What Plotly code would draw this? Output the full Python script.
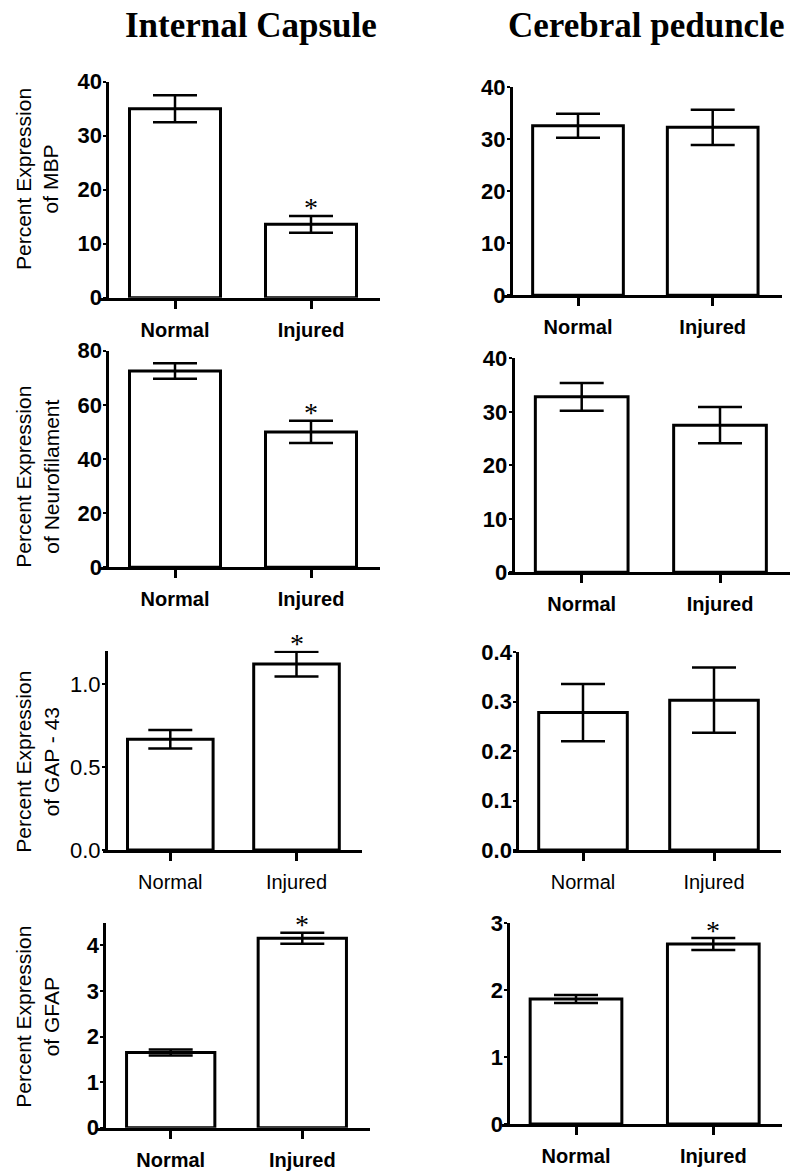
import plotly.graph_objects as go

# ---------------- data ----------------
groups = ["Normal", "Injured"]
column_titles = ["Internal Capsule", "Cerebral peduncle"]
row_titles = [
    "Percent Expression<br>of MBP",
    "Percent Expression<br>of Neurofilament",
    "Percent Expression<br>of GAP - 43",
    "Percent Expression<br>of GFAP",
]

ic_mbp_mean = [35.0, 13.6]
ic_mbp_sem = [2.5, 1.55]
cp_mbp_mean = [32.6, 32.3]
cp_mbp_sem = [2.3, 3.4]

ic_nf_mean = [72.5, 50.0]
ic_nf_sem = [2.9, 4.1]
cp_nf_mean = [32.8, 27.5]
cp_nf_sem = [2.6, 3.4]

ic_gap_mean = [0.667, 1.12]
ic_gap_sem = [0.056, 0.075]
cp_gap_mean = [0.278, 0.303]
cp_gap_sem = [0.058, 0.066]

ic_gfap_mean = [1.65, 4.16]
ic_gfap_sem = [0.065, 0.12]
cp_gfap_mean = [1.87, 2.69]
cp_gfap_sem = [0.06, 0.09]

# significance marker ("*") per group
ic_mbp_star = [False, True]
cp_mbp_star = [False, False]
ic_nf_star = [False, True]
cp_nf_star = [False, False]
ic_gap_star = [False, True]
cp_gap_star = [False, False]
ic_gfap_star = [False, True]
cp_gfap_star = [False, True]

# ---------------- layout geometry (pixels in the page) ----------------
W, H = 800, 1176


def px(xp):
    return xp / W


def py(yp):
    return 1 - yp / H


# (x-axis left, x-axis right, y-axis x, tick0 x, tick1 x, y of zero, y of top, bar width)
panels = [
    dict(mean=ic_mbp_mean, sem=ic_mbp_sem, star=ic_mbp_star, ymax=40, dtick=10, fmt="",
         geo=(100, 380, 107.3, 175, 311, 297.7, 81.7, 91), bold=True),
    dict(mean=cp_mbp_mean, sem=cp_mbp_sem, star=cp_mbp_star, ymax=40, dtick=10, fmt="",
         geo=(503, 781.7, 511, 578, 712.7, 295.3, 87.3, 90.7), bold=True),
    dict(mean=ic_nf_mean, sem=ic_nf_sem, star=ic_nf_star, ymax=80, dtick=20, fmt="",
         geo=(100, 380, 107.3, 175, 311, 567.3, 350.7, 91), bold=True),
    dict(mean=cp_nf_mean, sem=cp_nf_sem, star=cp_nf_star, ymax=40, dtick=10, fmt="",
         geo=(508, 790, 512.7, 581.7, 720, 572.3, 358.3, 92.7), bold=True),
    dict(mean=ic_gap_mean, sem=ic_gap_sem, star=ic_gap_star, ymax=1.2, dtick=0.5, fmt=".1f",
         geo=(103, 361.7, 106, 170.3, 296.5, 850, 650.8, 85.6), bold=False),
    dict(mean=cp_gap_mean, sem=cp_gap_sem, star=cp_gap_star, ymax=0.4, dtick=0.1, fmt=".1f",
         geo=(513.3, 781, 517.3, 583, 714, 850, 652.3, 88.6), bold=False),
    dict(mean=ic_gfap_mean, sem=ic_gfap_sem, star=ic_gfap_star, ymax=4.5, dtick=1, fmt="",
         geo=(96.7, 370, 104.3, 170.7, 302.3, 1127.7, 922.7, 88.3), bold=True),
    dict(mean=cp_gfap_mean, sem=cp_gfap_sem, star=cp_gfap_star, ymax=3, dtick=1, fmt="",
         geo=(501.7, 781.7, 508.3, 576, 713.3, 1124, 923.3, 91.7), bold=True),
]

FONT = "'Liberation Sans', Arial, 'DejaVu Sans', sans-serif"
SERIF = "'Liberation Serif', 'Times New Roman', serif"

fig = go.Figure()
layout = {}
annotations = []

for i, p in enumerate(panels, start=1):
    xl, xr, yax, t0, t1, y0, yt, bw = p["geo"]
    s = t1 - t0
    xa = "x" if i == 1 else f"x{i}"
    ya = "y" if i == 1 else f"y{i}"
    weight = "bold" if p["bold"] else "normal"

    fig.add_trace(go.Bar(
        x=groups, y=p["mean"], width=bw / s,
        marker=dict(color="white", line=dict(color="black", width=3)),
        error_y=dict(type="data", array=p["sem"], visible=True,
                     color="black", thickness=2.5, width=22),
        xaxis=xa, yaxis=ya, showlegend=False, hoverinfo="skip",
    ))

    layout[f"xaxis{i if i > 1 else ''}"] = dict(
        domain=[px(xl), px(xr)], range=[(xl - t0) / s, (xr - t0) / s],
        anchor=ya, type="category", automargin=False,
        showline=True, linecolor="black", linewidth=3,
        ticks="outside", ticklen=8, tickwidth=3, tickcolor="black",
        ticklabelstandoff=4,
        tickfont=dict(family=FONT, size=20, color="black", weight=weight),
        showgrid=False, zeroline=False, fixedrange=True,
    )
    layout[f"yaxis{i if i > 1 else ''}"] = dict(
        domain=[py(y0), py(yt)], range=[0, p["ymax"]],
        anchor="free", position=px(yax), automargin=False,
        tick0=0, dtick=p["dtick"], tickformat=p["fmt"],
        showline=True, linecolor="black", linewidth=3,
        ticks="outside", ticklen=3, tickwidth=2, tickcolor="black",
        ticklabelstandoff=-3,
        tickfont=dict(family=FONT, size=22, color="black",
                      weight="bold" if (p["bold"] or i == 6) else "normal"),
        showgrid=False, zeroline=False, fixedrange=True,
    )

    for g, m, e, st in zip(groups, p["mean"], p["sem"], p["star"]):
        if st:
            annotations.append(dict(
                x=g, y=m + e, xref=xa, yref=ya, text="*", showarrow=False,
                yanchor="middle", yshift=8,
                font=dict(family=SERIF, size=28, color="black"),
            ))

# column titles
for cx, t in zip([250.5, 645.5], column_titles):
    annotations.append(dict(
        x=px(cx), y=py(25), xref="paper", yref="paper", text=t,
        showarrow=False, xanchor="center", yanchor="middle",
        font=dict(family=SERIF, size=35, color="black", weight="bold"),
    ))

# row (y-axis) titles
for cy, t in zip([179, 476.7, 761.7, 1016.7], row_titles):
    annotations.append(dict(
        x=px(37), y=py(cy), xref="paper", yref="paper", text=t,
        showarrow=False, textangle=-90, xanchor="center", yanchor="middle",
        font=dict(family=FONT, size=21, color="black"),
    ))

fig.update_layout(
    width=W, height=H, autosize=False,
    margin=dict(l=0, r=0, t=0, b=0, autoexpand=False),
    paper_bgcolor="white", plot_bgcolor="white",
    bargap=0, annotations=annotations, **layout,
)

fig.write_html(
    "out.html",
    config={"displayModeBar": False, "staticPlot": True},
    post_script="document.body.style.margin='0';",
)
